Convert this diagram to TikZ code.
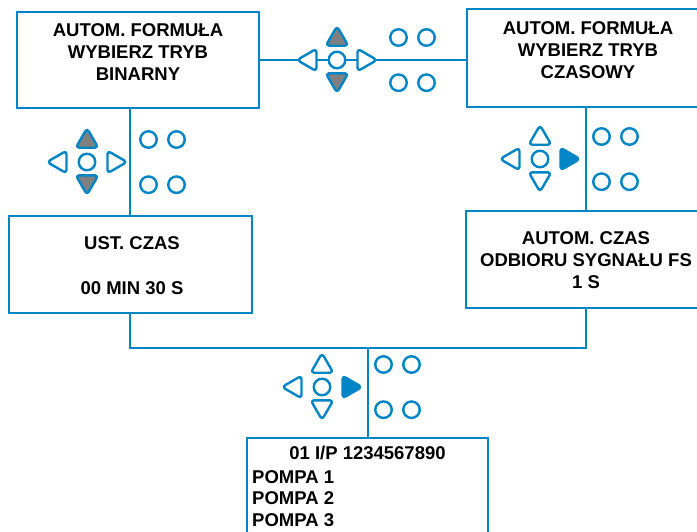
\documentclass[tikz,border=0pt]{standalone}
\usepackage{fontspec}
\setmainfont{Liberation Sans}
\usetikzlibrary{shapes.geometric,calc}
\definecolor{kblue}{RGB}{0,133,199}
\definecolor{kgray}{RGB}{128,128,128}
\newcommand{\keypad}[5]{%
  \node[tri, fill=#4] (#1u) at (#2,#3-20.8) {};
  \node[tri, fill=#4, shape border rotate=180] (#1d) at (#2,#3+19.8) {};
  \node[tri, fill=white, shape border rotate=90] (#1l) at (#2-27,#3) {};
  \node[tri, fill=#5, shape border rotate=270] (#1r) at (#2+27,#3) {};
  \node[keyc] (#1c) at (#2,#3) {};
  \node[keyc] (#1a) at (#2+61.5,#3-22.5) {};
  \node[keyc] (#1b) at (#2+89.5,#3-22.5) {};
  \node[keyc] (#1e) at (#2+61.5,#3+22.7) {};
  \node[keyc] (#1f) at (#2+89.5,#3+22.7) {};
}
\begin{document}
\begin{tikzpicture}[x=1pt,y=-1pt,
  box/.style={draw=kblue, line width=2.8pt, rectangle, inner sep=0pt},
  txt/.style={font=\fontsize{18.5}{22}\selectfont\bfseries, align=center, inner sep=0pt},
  conn/.style={draw=kblue, line width=2.6pt},
  keyc/.style={circle, draw=kblue, line width=2.4pt, fill=white, minimum size=16.5pt, inner sep=0pt},
  tri/.style={regular polygon, regular polygon sides=3, draw=kblue, line width=2.4pt,
              minimum size=26pt, inner sep=0pt, rounded corners=3.5pt, line join=round},
]
\clip (0,0) rectangle (697,531);
\fill[white] (0,0) rectangle (697,531);
% boxes
\node[box, minimum width=242pt, minimum height=96pt] (b1) at (138,60) {};
\node[box, minimum width=236pt, minimum height=98pt] (b2) at (585,58) {};
\node[box, minimum width=243pt, minimum height=97pt] (b3) at (130.5,264.5) {};
\node[box, minimum width=238pt, minimum height=97pt] (b4) at (585,259.5) {};
\node[box, minimum width=241pt, minimum height=110pt] (b5) at (367.5,493) {};
% texts
\node[txt] (t1) at (138,52) {AUTOM. FORMUŁA\\WYBIERZ TRYB\\BINARNY};
\node[txt] (t2) at (588,50.5) {AUTOM. FORMUŁA\\WYBIERZ TRYB\\CZASOWY};
\node[txt] (t3) at (132,265.5) {UST. CZAS\\[23pt]00 MIN 30 S};
\node[txt] (t4) at (586,260.5) {AUTOM. CZAS\\ODBIORU SYGNAŁU FS\\1 S};
\node[txt] (t5) at (367.5,453) {01 I/P 1234567890};
\node[txt, align=left, anchor=west, font=\fontsize{18.5}{21.5}\selectfont\bfseries] (t6) at (252,498.5) {POMPA 1\\POMPA 2\\POMPA 3};
% connectors
\coordinate (vl) at (130,0);
\coordinate (vr) at (586,0);
\coordinate (j) at (368,348);
\draw[conn] (b1.east) -- (b1.east -| b2.west);
\draw[conn] (vl |- b1.south) -- (vl |- b3.north);
\draw[conn] (vr |- b2.south) -- (vr |- b4.north);
\draw[conn] (vl |- b3.south) -- (vl |- j) -- (vr |- j) -- (vr |- b4.south);
\draw[conn] (j) -- (j |- b5.north);
% keypads
\keypad{kt}{337}{60}{kgray}{white}
\keypad{kl}{87}{162}{kgray}{white}
\keypad{kr}{540}{159}{white}{kblue}
\keypad{kb}{322}{387}{white}{kblue}
\end{tikzpicture}
\end{document}
